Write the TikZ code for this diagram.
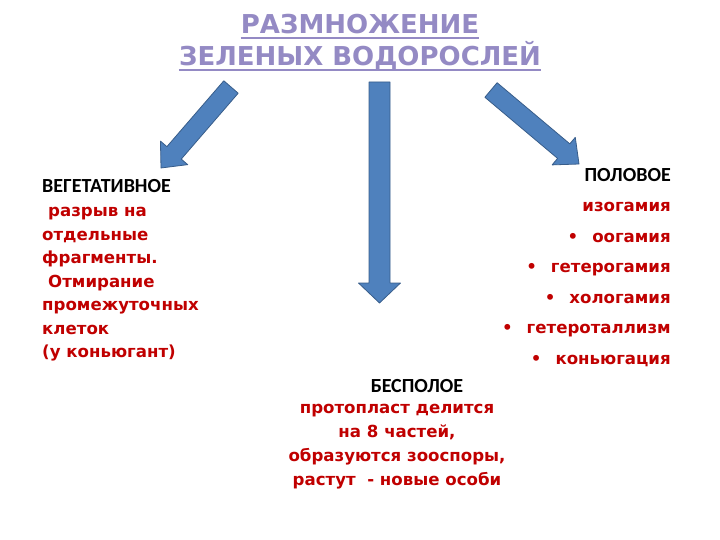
\documentclass[tikz,border=0pt]{standalone}
\usepackage{fontspec}
\setmainfont{DejaVu Sans}
\newfontfamily\headfont{Carlito}
\usetikzlibrary{calc,positioning}

\definecolor{titlelilac}{RGB}{148,138,196}
\definecolor{textred}{RGB}{192,0,0}
\definecolor{arrowblue}{RGB}{79,129,189}
\definecolor{arrowedge}{RGB}{56,93,138}

\tikzset{
  blockarrow/.style={fill=arrowblue,draw=arrowedge,line width=0.8pt,line join=round},
  heading/.style={font=\headfont\bfseries\fontsize{20}{22}\selectfont,text=black,inner sep=0pt},
  redtext/.style={font=\bfseries\fontsize{16.6}{#1}\selectfont,text=textred,inner sep=0pt},
  redtext/.default=23.5,
  titletext/.style={font=\bfseries\fontsize{26}{33}\selectfont,text=titlelilac,inner sep=0pt}
}

% block arrow: tail, tip, half shaft width, half head width
\newcommand\blockarrow[4]{%
  \coordinate (ba) at ($(#2)!20pt!(#1)$);
  \draw[blockarrow] ($(#1)!#3!90:(#2)$) -- ($(ba)!#3!90:(#2)$) -- ($(ba)!#4!90:(#2)$)
    -- (#2) -- ($(ba)!#4!-90:(#2)$) -- ($(ba)!#3!-90:(#2)$) -- ($(#1)!#3!-90:(#2)$) -- cycle;}

\begin{document}
\begin{tikzpicture}[x=1pt,y=-1pt]
  \useasboundingbox (0,0) rectangle (720,540);
  % title
  \node[titletext,anchor=base] (title1) at (360,34) {РАЗМНОЖЕНИЕ};
  \node[titletext,anchor=base] (title2) at (360,66) {ЗЕЛЕНЫХ ВОДОРОСЛЕЙ};
  \foreach \t in {title1,title2}
    \draw[titlelilac,line width=1.8pt] ([yshift=-4pt]\t.base west) -- ([yshift=-4pt]\t.base east);
  % three branches
  \node[heading,anchor=base west] (veg) at (42,193) {ВЕГЕТАТИВНОЕ};
  \node[heading,anchor=base east] (pol) at (671,182) {ПОЛОВОЕ};
  \node[heading,anchor=base] (bespol) at (417,392) {БЕСПОЛОЕ};
  \node[redtext,align=left,below=14pt of veg.south west,anchor=north west] (vegtxt)
    {\hspace*{6pt}разрыв на\\отдельные\\фрагменты.\\\hspace*{6pt}Отмирание\\промежуточных\\клеток\\(у коньюгант)};
  \node[redtext=30.5,align=right,below=20pt of pol.south east,anchor=north east] (poltxt)
    {изогамия\\•\hspace{14pt}оогамия\\•\hspace{14pt}гетерогамия\\•\hspace{14pt}хологамия\\•\hspace{14pt}гетероталлизм\\•\hspace{14pt}коньюгация};
  \node[redtext=24,align=center,below=12pt of bespol,xshift=-20pt] (bestxt)
    {протопласт делится\\на 8 частей,\\образуются зооспоры,\\растут\ \ - новые особи};
  % arrows
  \coordinate (vegtail) at (231,87);
  \coordinate (vegtip) at (161,168);
  \coordinate (bestail) at (379.5,82);
  \coordinate (bestip) at (379.5,303);
  \coordinate (poltail) at (491,90);
  \coordinate (poltip) at (579,164);
  \blockarrow{vegtail}{vegtip}{9.5pt}{18pt}
  \blockarrow{bestail}{bestip}{10.5pt}{21pt}
  \blockarrow{poltail}{poltip}{9.5pt}{18pt}
\end{tikzpicture}
\end{document}
